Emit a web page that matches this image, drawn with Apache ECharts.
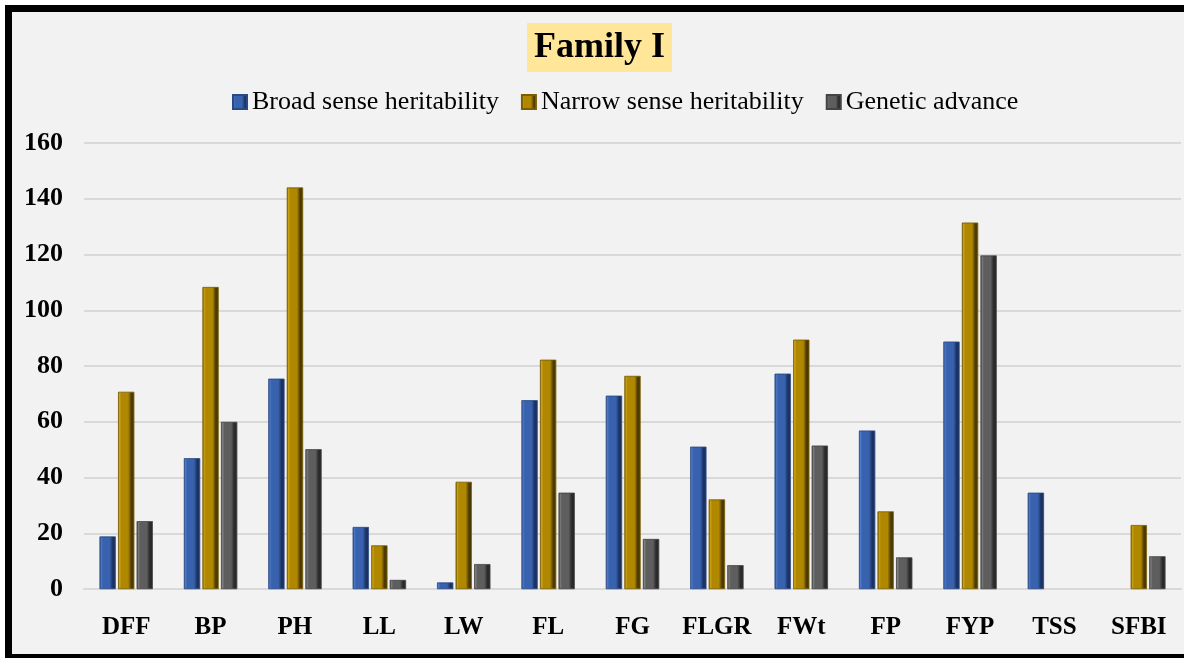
<!DOCTYPE html>
<html>
<head>
<meta charset="utf-8">
<script src="https://cdn.jsdelivr.net/npm/echarts@6/dist/echarts.min.js"></script>
<style>
html,body{margin:0;padding:0;background:#fff;overflow:hidden;width:1184px;height:658px;}
#frame{position:absolute;left:5px;top:5px;width:1300px;height:642px;border-left:7px solid #000;border-top:7px solid #000;border-bottom:4px solid #000;background:#f2f2f2;}
#chart{position:absolute;left:0;top:0;width:1184px;height:658px;z-index:2;}
</style>
</head>
<body>
<div id="frame"></div>
<div id="chart"></div>
<script>
const categories = ['DFF','BP','PH','LL','LW','FL','FG','FLGR','FWt','FP','FYP','TSS','SFBI'];
const broadSense = [18.8, 46.9, 75.4, 22.2, 2.3, 67.7, 69.3, 51.0, 77.2, 56.8, 88.7, 34.5, null];
const narrowSense = [70.7, 108.3, 144.0, 15.6, 38.4, 82.2, 76.4, 32.1, 89.4, 27.8, 131.4, null, 22.9];
const geneticAdvance = [24.3, 59.9, 50.1, 3.2, 8.9, 34.5, 17.9, 8.5, 51.4, 11.3, 119.6, null, 11.7];
const seriesNames = ['Broad sense heritability','Narrow sense heritability','Genetic advance'];
const yTicks = [0, 20, 40, 60, 80, 100, 120, 140, 160];

function grad(light, mid, dark) {
  return new echarts.graphic.LinearGradient(0, 0, 1, 0, [
    {offset: 0, color: dark},
    {offset: 0.08, color: light},
    {offset: 0.2, color: mid},
    {offset: 0.62, color: mid},
    {offset: 0.82, color: dark},
    {offset: 1, color: dark}
  ]);
}
const palettes = [
  {legend: '#3d67b3', light: '#4d7bcc', mid: '#3862ad', dark: '#1c3262', border: '#2a4a85'},
  {legend: '#b08800', light: '#cda316', mid: '#b08800', dark: '#4d3a00', border: '#7a5e00'},
  {legend: '#6b6b6b', light: '#808080', mid: '#5e5e5e', dark: '#2a2a2a', border: '#444'}
];
const dataSets = [broadSense, narrowSense, geneticAdvance];

const chart = echarts.init(document.getElementById('chart'), null, {renderer: 'canvas'});
const font = '"Liberation Serif", "Times New Roman", serif';
chart.setOption({
  backgroundColor: 'transparent',
  textStyle: {fontFamily: font},
  title: {
    text: 'Family I',
    left: 527, top: 23,
    backgroundColor: '#ffe699',
    padding: [6, 7, 6, 7],
    textStyle: {fontFamily: font, fontSize: 36, fontWeight: 'bold', color: '#000', lineHeight: 37}
  },
  legend: {
    top: 84, left: 227,
    itemWidth: 14, itemHeight: 14, itemGap: 22,
    icon: 'rect',
    textStyle: {fontFamily: font, fontSize: 26, color: '#000'},
    data: seriesNames
  },
  grid: {left: 84, right: 3, top: 143, bottom: 69, containLabel: false},
  xAxis: {
    type: 'category',
    data: categories,
    axisLine: {show: true, lineStyle: {color: '#d9d9d9', width: 2}},
    axisTick: {show: false},
    axisLabel: {interval: 0, fontFamily: font, fontSize: 25, fontWeight: 'bold', color: '#000', margin: 26}
  },
  yAxis: {
    type: 'value',
    min: yTicks[0], max: yTicks[yTicks.length - 1], interval: 20,
    axisLine: {show: false},
    axisTick: {show: false},
    splitLine: {lineStyle: {color: '#d9d9d9', width: 2}},
    axisLabel: {fontFamily: font, fontSize: 26, fontWeight: 'bold', color: '#000', margin: 21}
  },
  series: seriesNames.map((name, i) => ({
    name: name,
    type: 'bar',
    data: dataSets[i],
    barWidth: 16,
    barGap: '16%',
    itemStyle: {
      color: grad(palettes[i].light, palettes[i].mid, palettes[i].dark),
      borderColor: palettes[i].border,
      borderWidth: 0.5
    },
    emphasis: {disabled: true}
  })),
  color: palettes.map(p => p.legend)
});
</script>
</body>
</html>
